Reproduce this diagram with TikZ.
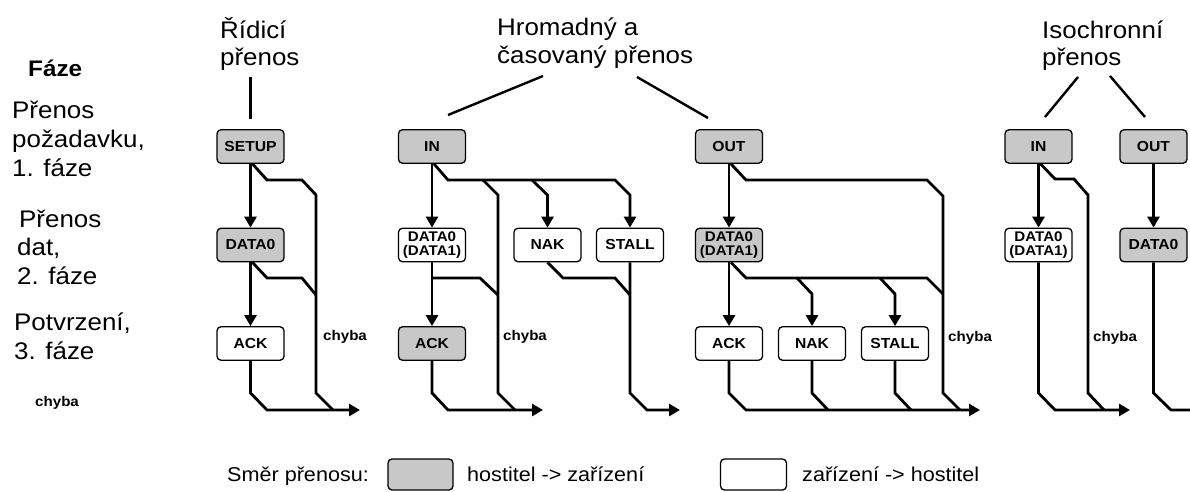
\documentclass[tikz,border=0pt]{standalone}
\usepackage{fontspec}
\setmainfont{Liberation Sans}[FakeStretch=1.08]
\usetikzlibrary{arrows.meta}
\definecolor{boxgray}{RGB}{200,200,200}
\tikzset{
  pbox/.style={draw, rounded corners=4pt, line width=1.3pt, minimum width=67pt, minimum height=33.5pt,
    inner sep=0pt, align=center, font=\bfseries\fontsize{14.5}{14.5}\selectfont},
  hostbox/.style={pbox, fill=boxgray},
  devbox/.style={pbox, fill=white},
  twoline/.style={font=\bfseries\fontsize{14}{13.5}\selectfont},
  ln/.style={line width=2.8pt},
  arr/.style={ln, -{Triangle[length=11pt,width=12pt]}},
  tline/.style={line width=2.4pt},
  title/.style={anchor=base west, inner sep=0pt, font=\fontsize{24}{24}\selectfont},
  phase/.style={anchor=base west, inner sep=0pt, font=\fontsize{24}{24}\selectfont},
  err/.style={anchor=west, inner sep=0pt, font=\bfseries\fontsize{14}{14}\selectfont},
  legendtext/.style={anchor=base west, inner sep=0pt, font=\fontsize{20}{20}\selectfont},
}
\begin{document}
\begin{tikzpicture}[x=1pt,y=-1pt]
\clip (0,0) rectangle (1190,491);
\fill[white] (0,0) rectangle (1190,491);

% ---------- left phase labels ----------
\node[anchor=base west, inner sep=0pt, font=\bfseries\fontsize{22.5}{22.5}\selectfont] (faze) at (28,76) {Fáze};
\node[phase] (p1a) at (12,118) {Přenos};
\node[phase] (p1b) at (12,147) {požadavku,};
\node[phase] (p1c) at (12,176) {1. fáze};
\node[phase] (p2a) at (19,227) {Přenos};
\node[phase] (p2b) at (17,255) {dat,};
\node[phase] (p2c) at (17,284) {2. fáze};
\node[phase] (p3a) at (14,330) {Potvrzení,};
\node[phase] (p3b) at (14,359) {3. fáze};
\node[err] (chl) at (35,403) {chyba};

% ---------- titles ----------
\node[title] (t1a) at (220,38) {Řídicí};
\node[title] (t1b) at (220,65) {přenos};
\node[title] (t2a) at (497,35) {Hromadný a};
\node[title] (t2b) at (497,63) {časovaný přenos};
\node[title] (t3a) at (1042,38) {Isochronní};
\node[title] (t3b) at (1042,65) {přenos};

% ---------- control transfer ----------
\node[hostbox] (setup) at (250.5,146.5) {SETUP};
\node[hostbox] (d0a) at (250.5,245) {DATA0};
\node[devbox] (ack1) at (250.5,343.5) {ACK};
\coordinate (c1top) at (250.5,77);
\draw[tline] (c1top) -- ([yshift=10pt]setup.north);
\draw[arr] (setup) -- (d0a);
\draw[arr] (d0a) -- (ack1);
\draw[ln] ([xshift=2pt]setup.south) -- (267,180) -- (302,180) -- (316,195) -- (316,393) -- (333,410);
\draw[ln] ([xshift=2pt]d0a.south) -- (267,278) -- (302,278) -- (316,295);
\draw[arr] (ack1.south) -- (250.5,393) -- (267,410) -- (360,410);
\node[err] (ch1) at (323,337) {chyba};

% ---------- bulk / interrupt IN ----------
\node[hostbox] (in1) at (432,146.5) {IN};
\node[devbox, twoline] (d1) at (432,245) {DATA0\\(DATA1)};
\node[devbox] (nak1) at (547.5,245) {NAK};
\node[devbox] (stall1) at (630,245) {STALL};
\node[hostbox] (ack2) at (432,343.5) {ACK};
\draw[tline] (543,76) -- (448,115);
\draw[tline] (637,77) -- (708,118);
\draw[arr] (in1) -- (d1);
\draw[arr] ([xshift=2pt]in1.south) -- (448,180) -- (615,180) -- (630,195) -- (stall1.north);
\draw[arr] (532,180) -- (547.5,195) -- (nak1.north);
\draw[ln] (483,180) -- (498,195) -- (498,393) -- (515,410);
\draw[arr] (d1) -- (ack2);
\draw[ln] (432,278) -- (480,278) -- (498,295);
\draw[arr] (ack2.south) -- (432,393) -- (448,410) -- (543,410);
\draw[ln] (nak1.south) -- (563,278) -- (615,278) -- (630,295);
\draw[arr] (stall1.south) -- (630,393) -- (647,410) -- (680,410);
\node[err] (ch2) at (503,337) {chyba};

% ---------- bulk / interrupt OUT ----------
\node[hostbox] (out1) at (729,146.5) {OUT};
\node[hostbox, twoline] (d2) at (729,245) {DATA0\\(DATA1)};
\node[devbox] (ack3) at (729,343.5) {ACK};
\node[devbox] (nak2) at (812,343.5) {NAK};
\node[devbox] (stall2) at (895,343.5) {STALL};
\draw[arr] (out1) -- (d2);
\draw[ln] ([xshift=2pt]out1.south) -- (746,180) -- (927,180) -- (943,196) -- (943,393) -- (960,410);
\draw[arr] (d2) -- (ack3);
\draw[ln] ([xshift=2pt]d2.south) -- (746,278) -- (927,278) -- (943,294);
\draw[arr] (797,278) -- (812,294) -- (nak2.north);
\draw[arr] (880,278) -- (895,294) -- (stall2.north);
\draw[arr] (ack3.south) -- (729,393) -- (746,410) -- (980,410);
\draw[ln] (nak2.south) -- (812,393) -- (828,410);
\draw[ln] (stall2.south) -- (895,393) -- (911,410);
\node[err] (ch3) at (948,338) {chyba};

% ---------- isochronous ----------
\node[hostbox] (in3) at (1038.5,146.5) {IN};
\node[hostbox] (out3) at (1153.5,146.5) {OUT};
\node[devbox, twoline] (d3) at (1038.5,245) {DATA0\\(DATA1)};
\node[hostbox] (d4) at (1153.5,245) {DATA0};
\draw[tline] (1078,77) -- (1045,117);
\draw[tline] (1110,76) -- (1145,117);
\draw[arr] (in3) -- (d3);
\draw[ln] ([xshift=2pt]in3.south) -- (1055,179) -- (1074,179) -- (1088,195) -- (1088,393) -- (1104,410);
\draw[arr] (d3.south) -- (1038.5,393) -- (1055,410) -- (1130,410);
\draw[arr] (out3) -- (d4);
\draw[arr] (d4.south) -- (1153.5,393) -- (1171,410) -- (1201,410);
\node[err] (ch4) at (1093,338) {chyba};

% ---------- legend ----------
\node[legendtext] (lg0) at (227,481) {Směr přenosu:};
\node[hostbox, minimum width=65pt, minimum height=31pt] (lgh) at (420.5,474.5) {};
\node[legendtext] (lg1) at (467,481) {hostitel -> zařízení};
\node[devbox, minimum width=66pt, minimum height=31pt] (lgd) at (753.5,474.5) {};
\node[legendtext] (lg2) at (802,481) {zařízení -> hostitel};
\end{tikzpicture}
\end{document}
